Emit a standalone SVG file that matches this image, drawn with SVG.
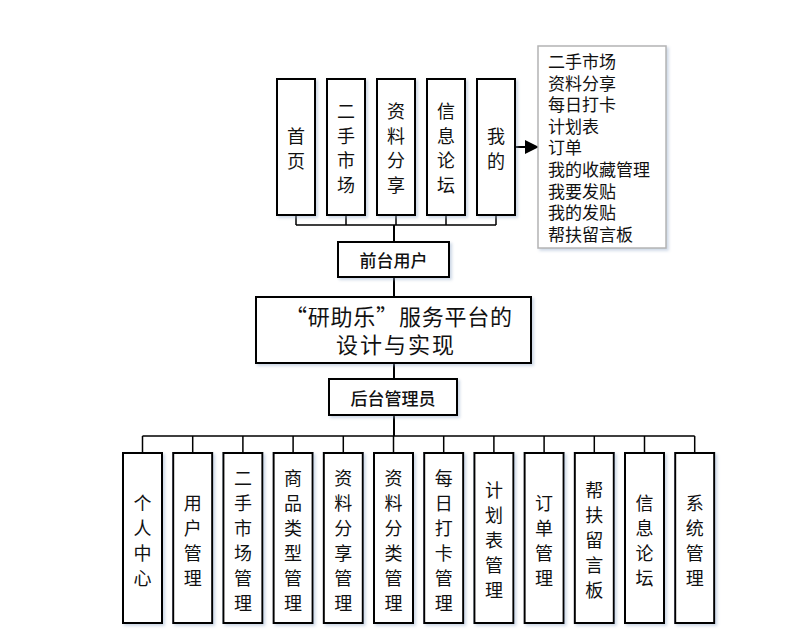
<svg xmlns="http://www.w3.org/2000/svg" width="792" height="642" viewBox="0 0 792 642">
<defs>
<filter id="sh" x="-20%" y="-20%" width="150%" height="150%">
<feDropShadow dx="2" dy="2" stdDeviation="1.5" flood-color="#8fa8c8" flood-opacity="0.45"/>
</filter>
<marker id="arr" markerWidth="14" markerHeight="14" refX="13" refY="7" orient="auto" markerUnits="userSpaceOnUse">
<path d="M0,0 L14,7 L0,14 Z" fill="#000"/>
</marker>
<style>
.box{fill:#fff;stroke:#000;stroke-width:2;filter:url(#sh)}
.lst{fill:#fff;stroke:#b4b4b4;stroke-width:1.5;filter:url(#sh)}
.t{font-family:"Noto Sans CJK SC","Noto Sans",sans-serif;font-size:18px;fill:#111;text-anchor:middle;dominant-baseline:central}
.tl{font-family:"Noto Sans CJK SC","Noto Sans",sans-serif;font-size:17px;fill:#111;dominant-baseline:central}
.tb{font-family:"Noto Sans CJK SC","Noto Sans",sans-serif;font-size:17px;font-weight:500;fill:#111;text-anchor:middle;dominant-baseline:central}
.tm{font-family:"Noto Sans CJK SC","Noto Sans",sans-serif;font-size:22px;fill:#111;dominant-baseline:central}
.c{fill:none;stroke:#000;stroke-width:1.5}
.tr{fill:none;stroke:#000;stroke-width:2}
</style>
</defs>
<rect width="792" height="642" fill="#fff"/>

<g id="connectors">
<path class="c" d="M296,215 V225 M346,215 V225 M396,215 V225 M446,215 V225 M496,215 V225 M296,225 H496"/>
<path class="tr" d="M394,225 V242 M394,277 V297 M394,363 V379 M394,415 V436"/>
<path class="c" d="M142.5,436 H694.7 M142.5,436 V453 M192.7,436 V453 M242.9,436 V453 M293.1,436 V453 M343.3,436 V453 M393.5,436 V453 M443.7,436 V453 M493.9,436 V453 M544.1,436 V453 M594.3,436 V453 M644.5,436 V453 M694.7,436 V453"/>
<path class="tr" d="M515,147 H538" marker-end="url(#arr)"/>
</g>

<g id="n-shouye"><rect class="box" x="277" y="79" width="38" height="136"/>
<text class="t"><tspan x="296" y="134.5">首</tspan><tspan x="296" y="159.5">页</tspan></text></g>
<g id="n-ershou"><rect class="box" x="327" y="79" width="38" height="136"/>
<text class="t"><tspan x="346" y="110">二</tspan><tspan x="346" y="134.5">手</tspan><tspan x="346" y="159">市</tspan><tspan x="346" y="183.5">场</tspan></text></g>
<g id="n-ziliao"><rect class="box" x="377" y="79" width="38" height="136"/>
<text class="t"><tspan x="396" y="110">资</tspan><tspan x="396" y="134.5">料</tspan><tspan x="396" y="159">分</tspan><tspan x="396" y="183.5">享</tspan></text></g>
<g id="n-xinxi"><rect class="box" x="427" y="79" width="38" height="136"/>
<text class="t"><tspan x="446" y="110">信</tspan><tspan x="446" y="134.5">息</tspan><tspan x="446" y="159">论</tspan><tspan x="446" y="183.5">坛</tspan></text></g>
<g id="n-wode"><rect class="box" x="477" y="79" width="38" height="136"/>
<text class="t"><tspan x="496" y="134.5">我</tspan><tspan x="496" y="159.5">的</tspan></text></g>

<g id="n-list"><rect class="lst" x="538" y="46" width="128" height="202"/>
<text class="tl"><tspan x="548" y="60">二手市场</tspan><tspan x="548" y="81.6">资料分享</tspan><tspan x="548" y="103.2">每日打卡</tspan><tspan x="548" y="124.8">计划表</tspan><tspan x="548" y="146.4">订单</tspan><tspan x="548" y="168">我的收藏管理</tspan><tspan x="548" y="189.6">我要发贴</tspan><tspan x="548" y="211.2">我的发贴</tspan><tspan x="548" y="232.8">帮扶留言板</tspan></text></g>

<g id="n-qiantai"><rect class="box" x="338" y="242" width="111" height="35"/>
<text class="tb" x="393.5" y="259.5">前台用户</text></g>

<g id="n-main"><rect class="box" x="256" y="297" width="275" height="66"/>
<text class="tm" x="285" y="315" textLength="227" lengthAdjust="spacing">“研助乐”服务平台的</text>
<text class="tm" x="336" y="343" textLength="118" lengthAdjust="spacing">设计与实现</text></g>

<g id="n-houtai"><rect class="box" x="329" y="379" width="128" height="36"/>
<text class="tb" x="393" y="397">后台管理员</text></g>

<g id="n-b1"><rect class="box" x="123" y="453" width="39" height="170"/>
<text class="t"><tspan x="142.5" y="501.5">个</tspan><tspan x="142.5" y="526.5">人</tspan><tspan x="142.5" y="551.5">中</tspan><tspan x="142.5" y="576.5">心</tspan></text></g>
<g id="n-b2"><rect class="box" x="173.2" y="453" width="39" height="170"/>
<text class="t"><tspan x="192.7" y="501.5">用</tspan><tspan x="192.7" y="526.5">户</tspan><tspan x="192.7" y="551.5">管</tspan><tspan x="192.7" y="576.5">理</tspan></text></g>
<g id="n-b3"><rect class="box" x="223.4" y="453" width="39" height="170"/>
<text class="t"><tspan x="242.9" y="476.5">二</tspan><tspan x="242.9" y="501.5">手</tspan><tspan x="242.9" y="526.5">市</tspan><tspan x="242.9" y="551.5">场</tspan><tspan x="242.9" y="576.5">管</tspan><tspan x="242.9" y="601.5">理</tspan></text></g>
<g id="n-b4"><rect class="box" x="273.6" y="453" width="39" height="170"/>
<text class="t"><tspan x="293.1" y="476.5">商</tspan><tspan x="293.1" y="501.5">品</tspan><tspan x="293.1" y="526.5">类</tspan><tspan x="293.1" y="551.5">型</tspan><tspan x="293.1" y="576.5">管</tspan><tspan x="293.1" y="601.5">理</tspan></text></g>
<g id="n-b5"><rect class="box" x="323.8" y="453" width="39" height="170"/>
<text class="t"><tspan x="343.3" y="476.5">资</tspan><tspan x="343.3" y="501.5">料</tspan><tspan x="343.3" y="526.5">分</tspan><tspan x="343.3" y="551.5">享</tspan><tspan x="343.3" y="576.5">管</tspan><tspan x="343.3" y="601.5">理</tspan></text></g>
<g id="n-b6"><rect class="box" x="374" y="453" width="39" height="170"/>
<text class="t"><tspan x="393.5" y="476.5">资</tspan><tspan x="393.5" y="501.5">料</tspan><tspan x="393.5" y="526.5">分</tspan><tspan x="393.5" y="551.5">类</tspan><tspan x="393.5" y="576.5">管</tspan><tspan x="393.5" y="601.5">理</tspan></text></g>
<g id="n-b7"><rect class="box" x="424.2" y="453" width="39" height="170"/>
<text class="t"><tspan x="443.7" y="476.5">每</tspan><tspan x="443.7" y="501.5">日</tspan><tspan x="443.7" y="526.5">打</tspan><tspan x="443.7" y="551.5">卡</tspan><tspan x="443.7" y="576.5">管</tspan><tspan x="443.7" y="601.5">理</tspan></text></g>
<g id="n-b8"><rect class="box" x="474.4" y="453" width="39" height="170"/>
<text class="t"><tspan x="493.9" y="489">计</tspan><tspan x="493.9" y="514">划</tspan><tspan x="493.9" y="539">表</tspan><tspan x="493.9" y="564">管</tspan><tspan x="493.9" y="589">理</tspan></text></g>
<g id="n-b9"><rect class="box" x="524.6" y="453" width="39" height="170"/>
<text class="t"><tspan x="544.1" y="501.5">订</tspan><tspan x="544.1" y="526.5">单</tspan><tspan x="544.1" y="551.5">管</tspan><tspan x="544.1" y="576.5">理</tspan></text></g>
<g id="n-b10"><rect class="box" x="574.8" y="453" width="39" height="170"/>
<text class="t"><tspan x="594.3" y="489">帮</tspan><tspan x="594.3" y="514">扶</tspan><tspan x="594.3" y="539">留</tspan><tspan x="594.3" y="564">言</tspan><tspan x="594.3" y="589">板</tspan></text></g>
<g id="n-b11"><rect class="box" x="625" y="453" width="39" height="170"/>
<text class="t"><tspan x="644.5" y="501.5">信</tspan><tspan x="644.5" y="526.5">息</tspan><tspan x="644.5" y="551.5">论</tspan><tspan x="644.5" y="576.5">坛</tspan></text></g>
<g id="n-b12"><rect class="box" x="675.2" y="453" width="39" height="170"/>
<text class="t"><tspan x="694.7" y="501.5">系</tspan><tspan x="694.7" y="526.5">统</tspan><tspan x="694.7" y="551.5">管</tspan><tspan x="694.7" y="576.5">理</tspan></text></g>
</svg>
